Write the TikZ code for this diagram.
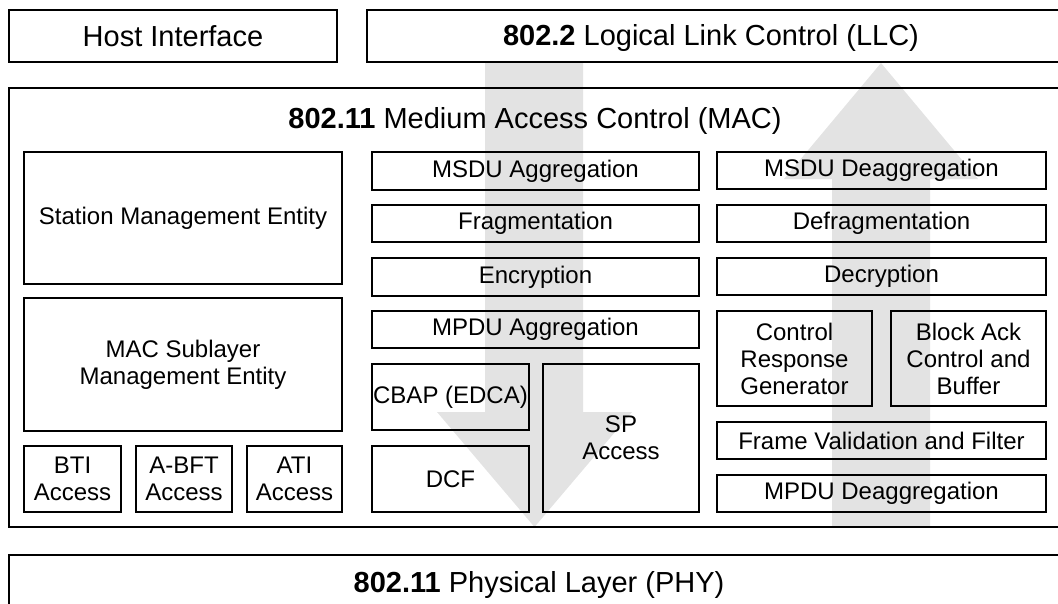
\documentclass[tikz,border=0pt]{standalone}
\usepackage{fontspec}
\setmainfont{Liberation Sans}
\definecolor{flow}{RGB}{227,227,227}
% \boxat[extra style]{name}{x1}{y1}{x2}{y2}{text}: framed block between two corners
\newcommand\boxat[7][]{%
  \node[blk,#1,minimum width={#5-#3},minimum height={#6-#4}]
    (#2) at ({(#3+#5)/2},{(#4+#6)/2}) {#7};}
\begin{document}
\begin{tikzpicture}[x=1pt,y=-1pt,
  blk/.style={draw=black,line width=1.5pt,inner sep=0pt,align=center,
    font=\fontsize{24}{27}\selectfont},
  large/.style={font=\fontsize{29}{33}\selectfont},
  title/.style={inner sep=0pt,anchor=base,font=\fontsize{29}{33}\selectfont}]
\useasboundingbox (0,0) rectangle (1058,603);

% data flow: downwards through transmit path, upwards through receive path
\fill[flow] (485,62) -- (583,62) -- (583,412) -- (632,412) -- (534.5,527)
  -- (437,412) -- (485,412) -- cycle;
\fill[flow] (832,527) -- (930,527) -- (930,179) -- (978,179) -- (881,63)
  -- (784,179) -- (832,179) -- cycle;

% upper layers
\boxat[large]{host}{9}{10}{337}{62}{Host Interface}
\boxat{llc}{367}{10}{1064}{62}{}
\node[title] (llctitle) at (711,45) {\textbf{802.2} Logical Link Control (LLC)};

% MAC layer
\boxat{mac}{9}{88}{1064}{527}{}
\node[title] (mactitle) at (535,128) {\textbf{802.11} Medium Access Control (MAC)};

% management side
\boxat{sme}{24}{152}{342}{284}{Station Management Entity}
\boxat{mlme}{24}{298}{342}{431}{MAC Sublayer\\Management Entity}
\boxat{bti}{24}{446}{121}{512}{BTI\\Access}
\boxat{abft}{136}{446}{232}{512}{A-BFT\\Access}
\boxat{ati}{247}{446}{342}{512}{ATI\\Access}

% transmit path
\boxat{msduagg}{372}{152}{699}{190}{MSDU Aggregation}
\boxat{frag}{372}{205}{699}{242}{Fragmentation}
\boxat{encr}{372}{258}{699}{296}{Encryption}
\boxat{mpduagg}{372}{311}{699}{348}{MPDU Aggregation}
\boxat{cbap}{372}{364}{529}{430}{CBAP (EDCA)}
\boxat{dcf}{372}{446}{529}{512}{DCF}
\boxat{sp}{543}{364}{699}{512}{SP\\Access}

% receive path
\boxat{msdudeagg}{717}{152}{1046}{189}{MSDU Deaggregation}
\boxat{defrag}{717}{205}{1046}{242}{Defragmentation}
\boxat{decr}{717}{258}{1046}{295}{Decryption}
\boxat{ctrl}{717}{311}{872}{406}{Control\\Response\\Generator}
\boxat{back}{891}{311}{1046}{406}{Block Ack\\Control and\\Buffer}
\boxat{fvf}{717}{422}{1046}{459}{Frame Validation and Filter}
\boxat{mpdudeagg}{717}{475}{1046}{512}{MPDU Deaggregation}

% physical layer
\boxat{phy}{9}{555}{1064}{608}{}
\node[title] (phytitle) at (539,592) {\textbf{802.11} Physical Layer (PHY)};
\end{tikzpicture}
\end{document}
